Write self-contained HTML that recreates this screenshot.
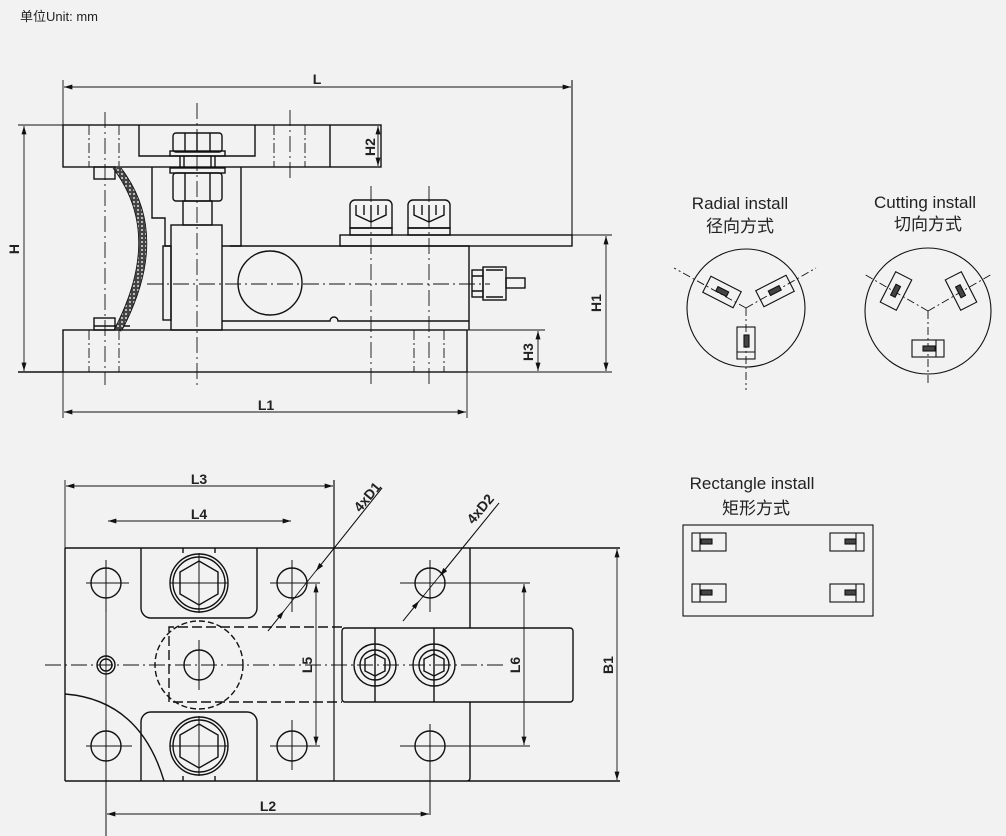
<!DOCTYPE html>
<html><head><meta charset="utf-8"><style>
html,body{margin:0;padding:0;background:#f2f2f2;}
svg{display:block;}
text{font-family:"Liberation Sans","Noto Sans CJK SC",sans-serif;fill:#222;}
.d{font-weight:bold;font-size:14px;}
</style></head><body>
<svg width="1006" height="836" viewBox="0 0 1006 836" xmlns="http://www.w3.org/2000/svg">
<defs>
<marker id="a" viewBox="0 0 10 6" refX="10" refY="3" markerWidth="9" markerHeight="5" orient="auto-start-reverse" markerUnits="userSpaceOnUse"><path d="M0,0L10,3L0,6z" fill="#111"/></marker>
<pattern id="hat" width="4" height="4" patternUnits="userSpaceOnUse"><rect width="4" height="4" fill="#444"/><circle cx="2" cy="2" r="1" fill="#ddd"/></pattern>
</defs>
<rect width="1006" height="836" fill="#f2f2f2"/>
<text x="20" y="21" font-size="13">单位Unit: mm</text>

<g fill="none" stroke="#111" stroke-width="1.4">
<line x1="63" y1="80" x2="63" y2="125" stroke-width="0.9"/>
<line x1="572" y1="80" x2="572" y2="236" stroke-width="1.1"/>
<line x1="64" y1="87" x2="571" y2="87" stroke-width="0.9" marker-start="url(#a)" marker-end="url(#a)"/>
<line x1="18" y1="125" x2="63" y2="125" stroke-width="0.9"/>
<line x1="24" y1="126" x2="24" y2="371" stroke-width="0.9" marker-start="url(#a)" marker-end="url(#a)"/>
<rect x="63" y="125" width="318" height="42"/>
<path d="M139,125V156H255V125"/>
<line x1="89" y1="125" x2="89" y2="167" stroke-dasharray="10,3,2,3" stroke-width="0.9"/>
<line x1="119" y1="125" x2="119" y2="167" stroke-dasharray="10,3,2,3" stroke-width="0.9"/>
<line x1="274" y1="125" x2="274" y2="167" stroke-dasharray="10,3,2,3" stroke-width="0.9"/>
<line x1="305" y1="125" x2="305" y2="167" stroke-dasharray="10,3,2,3" stroke-width="0.9"/>
<path d="M330,125V167"/>
<line x1="378" y1="126" x2="378" y2="166" stroke-width="0.9" marker-start="url(#a)" marker-end="url(#a)"/>
<rect x="173" y="133" width="49" height="19" rx="3"/>
<path d="M185,133V152M197,133V152M210,133V152"/>
<rect x="170" y="151" width="55" height="5"/>
<path d="M180,156V168M184,156V168M211,156V168M215,156V168"/>
<rect x="170" y="168" width="55" height="5"/>
<rect x="173" y="173" width="49" height="28" rx="3"/>
<path d="M185,173V201M210,173V201"/>
<rect x="183" y="201" width="29" height="24"/>
<path d="M152,167V218H165V246H171M241,167V246H230"/>
<rect x="171" y="225" width="51" height="105"/>
<rect x="163" y="246" width="8" height="74"/>
<rect x="94" y="167" width="21" height="12"/>
<rect x="94" y="318" width="21" height="12"/>
<path d="M94,326H130"/>
<path d="M117,168 Q168,235 118,330" stroke="url(#hat)" stroke-width="7"/>
<path d="M113,168 Q164,235 114,330 M121,168 Q172,235 122,330" stroke-width="0.9"/>
<path d="M222,246H469V330"/>
<path d="M222,321H330a4,4 0 0 1 8,0H469"/>
<circle cx="270" cy="283" r="32"/>
<rect x="340" y="235" width="232" height="11"/>
<path d="M350,228V205a5,5 0 0 1 5,-5H387a5,5 0 0 1 5,5V228z"/>
<path d="M350,228H392V235H350z M356,205V215L371,222L386,215V205 M364,205V215 M371,205V222 M378,205V215"/>
<path d="M408,228V205a5,5 0 0 1 5,-5H445a5,5 0 0 1 5,5V228z"/>
<path d="M408,228H450V235H408z M414,205V215L429,222L444,215V205 M422,205V215 M429,205V222 M436,205V215"/>
<rect x="472" y="270" width="11" height="27"/>
<rect x="483" y="267" width="23" height="33"/>
<rect x="506" y="278" width="19" height="10"/>
<path d="M472,276H483M472,291H483M486,270H503M486,297H503"/>
<rect x="63" y="330" width="404" height="42"/>
<line x1="18" y1="372" x2="63" y2="372"/>
<line x1="467" y1="372" x2="612" y2="372" stroke-width="0.9"/>
<line x1="467" y1="330" x2="545" y2="330" stroke-width="0.9"/>
<line x1="572" y1="235" x2="612" y2="235" stroke-width="0.9"/>
<line x1="89" y1="330" x2="89" y2="372" stroke-dasharray="10,3,2,3" stroke-width="0.9"/>
<line x1="119" y1="330" x2="119" y2="372" stroke-dasharray="10,3,2,3" stroke-width="0.9"/>
<line x1="414" y1="330" x2="414" y2="372" stroke-dasharray="10,3,2,3" stroke-width="0.9"/>
<line x1="444" y1="330" x2="444" y2="372" stroke-dasharray="10,3,2,3" stroke-width="0.9"/>
<line x1="606" y1="236" x2="606" y2="371" stroke-width="0.9" marker-start="url(#a)" marker-end="url(#a)"/>
<line x1="538" y1="331" x2="538" y2="371" stroke-width="0.9" marker-start="url(#a)" marker-end="url(#a)"/>
<line x1="63" y1="372" x2="63" y2="418" stroke-width="0.9"/>
<line x1="467" y1="372" x2="467" y2="418" stroke-width="0.9"/>
<line x1="64" y1="412" x2="466" y2="412" stroke-width="0.9" marker-start="url(#a)" marker-end="url(#a)"/>
<g stroke-width="0.9" stroke-dasharray="16,4,2,4">
<line x1="105" y1="112" x2="105" y2="385"/>
<line x1="197" y1="103" x2="197" y2="385"/>
<line x1="290" y1="110" x2="290" y2="178"/>
<line x1="371" y1="186" x2="371" y2="385"/>
<line x1="429" y1="186" x2="429" y2="385"/>
<line x1="147" y1="284" x2="490" y2="284"/>
</g>

<line x1="65" y1="480" x2="65" y2="548" stroke-width="0.9"/>
<line x1="334" y1="480" x2="334" y2="781" stroke-width="1.2"/>
<line x1="66" y1="486" x2="333" y2="486" stroke-width="0.9" marker-start="url(#a)" marker-end="url(#a)"/>
<line x1="108" y1="521" x2="291" y2="521" stroke-width="0.9" marker-start="url(#a)" marker-end="url(#a)"/>
<path d="M65,548H620M65,781H620M65,548V781M470,548V628M470,702V778a3,3 0 0 1 -3,3"/>
<path d="M141,548V608a10,10 0 0 0 10,10H247a10,10 0 0 0 10,-10V548"/>
<path d="M141,781V722a10,10 0 0 1 10,-10H247a10,10 0 0 1 10,10V781"/>
<path d="M183,548V553M215,548V553M183,776V781M215,776V781"/>
<path d="M65,694 Q140,700 164,781"/>
<circle cx="106" cy="583" r="15"/><circle cx="292" cy="583" r="15"/>
<circle cx="106" cy="746" r="15"/><circle cx="292" cy="746" r="15"/>
<circle cx="430" cy="583" r="15"/><circle cx="430" cy="746" r="15"/>
<circle cx="199" cy="583" r="29"/><circle cx="199" cy="583" r="26"/>
<polygon points="199,561 218,572 218,594 199,605 180,594 180,572"/>
<circle cx="199" cy="746" r="29"/><circle cx="199" cy="746" r="26"/>
<polygon points="199,724 218,735 218,757 199,768 180,757 180,735"/>
<circle cx="106" cy="665" r="9"/><circle cx="106" cy="665" r="6"/>
<circle cx="199" cy="665" r="44" stroke-dasharray="6,3"/>
<path d="M342,627H169V702H342" stroke-dasharray="10,4"/>
<circle cx="199" cy="665" r="15"/>
<rect x="342" y="628" width="231" height="74" rx="3"/>
<circle cx="375" cy="665" r="21"/><circle cx="375" cy="665" r="15"/>
<polygon points="375,654 385,659 385,671 375,676 365,671 365,659"/>
<circle cx="434" cy="665" r="21"/><circle cx="434" cy="665" r="15"/>
<polygon points="434,654 444,659 444,671 434,676 424,671 424,659"/>
<path d="M375,628V702M434,628V702"/>
<g stroke-width="1">
<path d="M86,583H129M106,560V612M270,583H312M292,560V612M86,746H132M106,720V836M270,746H312M292,720V770"/>
<path d="M400,583H460M430,560V612M400,746H460M430,724V815"/>
<path d="M170,583H228M199,553V613M170,746H228M199,716V776M199,640V690"/>
<path d="M292,583H320M292,746H320M460,583H530M460,746H530"/>
</g>
<path d="M45,665H505" stroke-width="0.9" stroke-dasharray="16,4,2,4"/>
<line x1="106" y1="612" x2="106" y2="820" stroke-width="0.9"/>
<line x1="316" y1="584" x2="316" y2="745" stroke-width="0.9" marker-start="url(#a)" marker-end="url(#a)"/>
<line x1="524" y1="584" x2="524" y2="745" stroke-width="0.9" marker-start="url(#a)" marker-end="url(#a)"/>
<line x1="617" y1="549" x2="617" y2="780" stroke-width="0.9" marker-start="url(#a)" marker-end="url(#a)"/>
<line x1="107" y1="814" x2="429" y2="814" stroke-width="0.9" marker-start="url(#a)" marker-end="url(#a)"/>
<!-- leaders (colinear) -->
<line x1="382" y1="488" x2="268" y2="631" stroke-width="0.9"/>
<line x1="382" y1="488" x2="316" y2="571" stroke-width="0.9" marker-end="url(#a)"/>
<line x1="268" y1="631" x2="284" y2="611" stroke-width="0.9" marker-end="url(#a)"/>
<line x1="499" y1="503" x2="403" y2="621" stroke-width="0.9"/>
<line x1="499" y1="503" x2="440" y2="576" stroke-width="0.9" marker-end="url(#a)"/>
<line x1="403" y1="621" x2="419" y2="601" stroke-width="0.9" marker-end="url(#a)"/>
</g>

<text class="d" x="317" y="84" text-anchor="middle">L</text>
<text class="d" x="266" y="410" text-anchor="middle">L1</text>
<text class="d" x="199" y="484" text-anchor="middle">L3</text>
<text class="d" x="199" y="519" text-anchor="middle">L4</text>
<text class="d" x="268" y="811" text-anchor="middle">L2</text>
<text class="d" transform="translate(19,249) rotate(-90)" text-anchor="middle">H</text>
<text class="d" transform="translate(375,147) rotate(-90)" text-anchor="middle">H2</text>
<text class="d" transform="translate(601,303) rotate(-90)" text-anchor="middle">H1</text>
<text class="d" transform="translate(533,352) rotate(-90)" text-anchor="middle">H3</text>
<text class="d" transform="translate(312,665) rotate(-90)" text-anchor="middle">L5</text>
<text class="d" transform="translate(520,665) rotate(-90)" text-anchor="middle">L6</text>
<text class="d" transform="translate(613,665) rotate(-90)" text-anchor="middle">B1</text>
<text class="d" transform="translate(371,500) rotate(-50)" text-anchor="middle">4xD1</text>
<text class="d" transform="translate(484,512) rotate(-50)" text-anchor="middle">4xD2</text>

<text x="740" y="209" font-size="17" text-anchor="middle">Radial install</text>
<text x="740" y="232" font-size="17" text-anchor="middle">径向方式</text>
<text x="925" y="208" font-size="17" text-anchor="middle">Cutting install</text>
<text x="928" y="230" font-size="17" text-anchor="middle">切向方式</text>
<text x="752" y="489" font-size="17" text-anchor="middle">Rectangle install</text>
<text x="756" y="514" font-size="17" text-anchor="middle">矩形方式</text>

<g fill="none" stroke="#111" stroke-width="1.1">
<circle cx="746" cy="308" r="59"/>
<g stroke-dasharray="8,3,2,3" stroke-width="0.9">
<line x1="746" y1="308" x2="674" y2="268"/><line x1="746" y1="308" x2="816" y2="268"/><line x1="746" y1="308" x2="746" y2="390"/>
</g>
<g transform="translate(722,292) rotate(27)"><rect x="-17" y="-9" width="34" height="18"/><rect x="-6" y="-3" width="12" height="5" fill="#444"/></g>
<g transform="translate(775,291) rotate(-27)"><rect x="-17" y="-9" width="34" height="18"/><rect x="-6" y="-3" width="12" height="5" fill="#444"/></g>
<rect x="737" y="327" width="18" height="32"/><line x1="737" y1="352" x2="755" y2="352"/><rect x="744" y="335" width="5" height="12" fill="#444"/>
<circle cx="928" cy="311" r="63"/>
<g stroke-dasharray="8,3,2,3" stroke-width="0.9">
<line x1="928" y1="311" x2="864" y2="274"/><line x1="928" y1="311" x2="992" y2="274"/><line x1="928" y1="311" x2="928" y2="385"/>
</g>
<g transform="translate(896,291) rotate(27)"><rect x="-9" y="-17" width="18" height="34"/><rect x="-3" y="-6" width="5" height="12" fill="#444"/></g>
<g transform="translate(961,291) rotate(-27)"><rect x="-9" y="-17" width="18" height="34"/><rect x="-3" y="-6" width="5" height="12" fill="#444"/></g>
<rect x="912" y="340" width="32" height="17"/><line x1="936" y1="340" x2="936" y2="357"/><rect x="923" y="346" width="12" height="5" fill="#444"/>
<rect x="683" y="525" width="190" height="91"/>
<rect x="692" y="533" width="34" height="18"/><line x1="700" y1="533" x2="700" y2="551"/><rect x="701" y="539" width="11" height="5" fill="#444"/>
<rect x="830" y="533" width="34" height="18"/><line x1="856" y1="533" x2="856" y2="551"/><rect x="845" y="539" width="11" height="5" fill="#444"/>
<rect x="692" y="584" width="34" height="18"/><line x1="700" y1="584" x2="700" y2="602"/><rect x="701" y="590" width="11" height="5" fill="#444"/>
<rect x="830" y="584" width="34" height="18"/><line x1="856" y1="584" x2="856" y2="602"/><rect x="845" y="590" width="11" height="5" fill="#444"/>
</g>
</svg>
</body></html>
